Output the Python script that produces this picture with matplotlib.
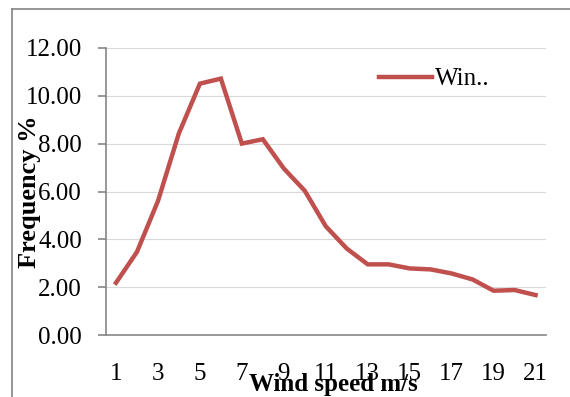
import matplotlib.pyplot as plt
from matplotlib.lines import Line2D

plt.rcParams['font.family'] = ['Liberation Serif', 'DejaVu Serif']

# data
speed = list(range(1, 22))
freq = [2.19, 3.48, 5.60, 8.43, 10.50, 10.71, 8.00, 8.18, 6.96, 6.03,
        4.55, 3.62, 2.96, 2.96, 2.79, 2.75, 2.58, 2.33, 1.86, 1.89, 1.68]
xticks = [1, 3, 5, 7, 9, 11, 13, 15, 17, 19, 21]
yticks = [0, 2, 4, 6, 8, 10, 12]

W, H = 570, 397
fig = plt.figure(figsize=(W / 100, H / 100), dpi=100)
ax = fig.add_axes([105.5 / W, 1 - 335.3 / H, (546 - 105.5) / W, (335.3 - 47.7) / H])

ax.plot(speed, freq, color='#C0504D', lw=3.2, solid_joinstyle='miter', label='Win..')
ax.set_xlim(0.5, 21.5)
ax.set_ylim(0, 12)
ax.set_yticks(yticks)
ax.set_yticklabels([f"{v:.2f}" for v in yticks])
ax.set_xticks(xticks)
ax.yaxis.grid(True, color='#D9D9D9', lw=0.8)
ax.set_axisbelow(True)

for s in ['top', 'right']:
    ax.spines[s].set_visible(False)
for s in ['left', 'bottom']:
    ax.spines[s].set_color('#868686')
    ax.spines[s].set_linewidth(1.2)
ax.tick_params(axis='y', direction='out', length=6, width=1.2, color='#868686', pad=11, labelsize=18)
ax.tick_params(axis='x', length=0, pad=20, labelsize=18)

fig.text(333 / W, 1 - 385 / H, 'Wind speed m/s', ha='center', va='center',
         fontsize=18, fontweight='bold')
fig.text(30 / W, 1 - 192 / H, 'Frequency %', ha='center', va='center',
         rotation=90, fontsize=19, fontweight='bold')

ax.legend(loc='center left', bbox_to_anchor=(379 / W, 1 - 79 / H),
          bbox_transform=fig.transFigure, frameon=False, fontsize=18,
          handlelength=2.1, handletextpad=0.12, borderpad=0, borderaxespad=0)

# outer chart border (cut off on right and bottom)
fig.add_artist(Line2D([12 / W, 1], [1 - 9 / H, 1 - 9 / H], color='#8C8C8C', lw=1.3))
fig.add_artist(Line2D([12 / W, 12 / W], [0, 1 - 9 / H], color='#8C8C8C', lw=1.3))

fig.savefig('out.png', dpi=100)
